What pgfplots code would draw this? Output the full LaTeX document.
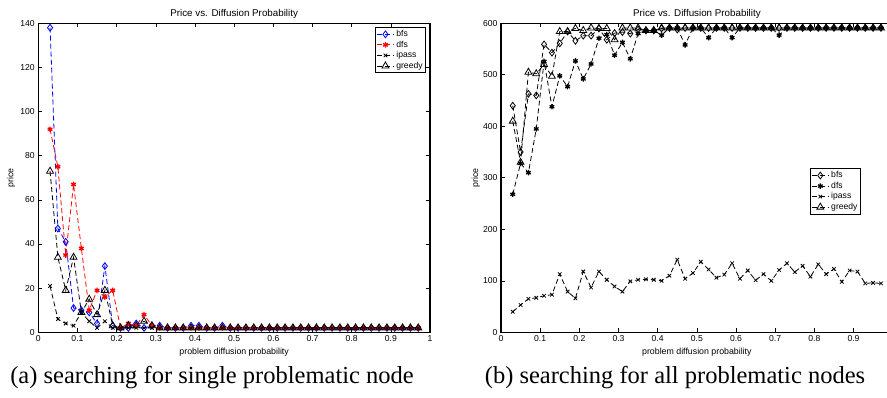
\documentclass[border=0pt]{standalone}
\usepackage{fontspec}
\setmainfont{Liberation Serif}
\newfontfamily\arial{Liberation Sans}
\usepackage{pgfplots}
\usepackage{pgfplotstable}
\pgfplotsset{compat=1.18}

\pgfplotstableread{
x bfs dfs ipass greedy
0.03 138 92 21 73
0.05 47 75 6 34
0.07 41 35 4 19
0.09 11 67 3 34
0.11 10 38 9 9
0.13 9 10 5 15
0.15 4 19 2 8
0.17 30 16 5 19
0.19 3 19 2 3
0.21 2 2 2 2
0.23 2 4 2 3
0.25 4 3 2 3
0.27 2 8 2 5
0.29 3 3 2 3
0.31 3 2 2 2
0.33 2 2 2 2
0.35 2 2 2 2
0.37 2 2 2 2
0.39 3 2 2 2
0.41 3 2 2 2
0.43 2 2 2 2
0.45 2 2 2 2
0.47 3 2 2 2
0.49 2 2 2 2
0.51 2 2 2 2
0.53 2 2 2 2
0.55 2 2 2 2
0.57 2 2 2 2
0.59 2 2 2 2
0.61 2 2 2 2
0.63 2 2 2 2
0.65 2 2 2 2
0.67 2 2 2 2
0.69 2 2 2 2
0.71 2 2 2 2
0.73 2 2 2 2
0.75 2 2 2 2
0.77 2 2 2 2
0.79 2 2 2 2
0.81 2 2 2 2
0.83 2 2 2 2
0.85 2 2 2 2
0.87 2 2 2 2
0.89 2 2 2 2
0.91 2 2 2 2
0.93 2 2 2 2
0.95 2 2 2 2
0.97 2 2 2 2
}\single

\pgfplotstableread{
x bfs dfs ipass greedy
0.03 440 268 40 410
0.05 350 328 53 330
0.07 463 310 65 505
0.09 460 395 67 502
0.11 559 526 71 520
0.13 543 438 73 497
0.15 561 498 113 584
0.17 584 477 79 584
0.19 566 527 66 590
0.21 576 492 118 586
0.23 576 521 87 591
0.25 590 571 118 590
0.27 568 578 102 590
0.29 581 538 89 568
0.31 583 563 79 591
0.33 580 531 99 591
0.35 588 580 102 591
0.37 586 586 103 586
0.39 586 586 102 586
0.41 590 577 100 591
0.43 591 591 110 591
0.45 588 591 141 591
0.47 591 558 104 591
0.49 591 591 115 591
0.51 591 591 137 591
0.53 591 572 122 591
0.55 591 591 106 591
0.57 591 591 112 591
0.59 591 572 134 591
0.61 591 591 104 591
0.63 591 591 120 591
0.65 591 591 101 591
0.67 591 591 113 591
0.69 591 591 100 591
0.71 591 577 121 591
0.73 591 591 134 591
0.75 591 591 117 591
0.77 591 591 129 591
0.79 591 591 108 591
0.81 591 591 132 591
0.83 591 591 113 591
0.85 591 591 123 591
0.87 591 591 98 591
0.89 591 591 120 591
0.91 591 591 118 591
0.93 591 591 95 591
0.95 591 591 96 591
0.97 591 591 95 591
}\allnodes

\pgfplotsset{
  mlab/.style={
    scale only axis, width=391.7pt, height=309pt,
    xmin=0, xmax=1,
    tick align=inside, major tick length=4pt,
    axis line style={line width=1.1pt},
    every tick/.style={black, line width=0.6pt},
    tick label style={font=\arial\fontsize{8.6}{10}\selectfont},
    /pgf/number format/assume math mode=true,
    label style={font=\arial\fontsize{8.8}{10}\selectfont},
    every axis title shift=0pt,
    title style={font=\arial\fontsize{9.8}{11}\selectfont, at={(axis description cs:0.5,1.03)}, anchor=center},
    xlabel style={at={(axis description cs:0.5,-0.064)}, anchor=center},
    legend style={font=\arial\fontsize{8.6}{9.8}\selectfont, draw=black, line width=0.9pt, inner sep=1pt, row sep=-1.2pt, legend cell align=left},
    legend image code/.code={\draw[mark repeat=2,mark phase=2,#1] plot coordinates {(0pt,0pt) (8.5pt,0pt) (17pt,0pt)};},
    every axis plot/.append style={line width=0.8pt, dash pattern=on 5pt off 3pt},
    title={Price vs. Diffusion Probability},
    xlabel={problem diffusion probability},
    ylabel={price},
  },
  mbfs/.style={mark=diamond, mark size=3.4pt, mark options={solid, fill=white}},
  mdfs/.style={mark=asterisk, mark size=2.7pt, mark options={solid, line width=1.3pt}},
  mipass/.style={mark=x, mark size=2.5pt, mark options={solid}},
  mgreedy/.style={mark=triangle, mark size=4pt, mark options={solid}},
}

\begin{document}
\begin{tikzpicture}[x=1pt,y=1pt]
\useasboundingbox (0,0) rectangle (887,397);

\begin{axis}[mlab, at={(38.3pt,64.7pt)}, anchor=south west,
  xtick={0,0.1,0.2,0.3,0.4,0.5,0.6,0.7,0.8,0.9,1},
  ymin=0, ymax=140, ytick={0,20,40,60,80,100,120,140},
  ylabel style={at={(axis description cs:-0.0697,0.5)}, anchor=center},
  legend style={at={(0.99,0.988)}, anchor=north east}]
\addplot[blue, mbfs] table[x=x, y=bfs] {\single};
\addplot[red, mdfs] table[x=x, y=dfs] {\single};
\addplot[black, mipass] table[x=x, y=ipass] {\single};
\addplot[black, mgreedy] table[x=x, y=greedy] {\single};
\legend{bfs, dfs, ipass, greedy}
\end{axis}

\begin{axis}[mlab, at={(501pt,64.7pt)}, anchor=south west,
  xtick={0,0.1,0.2,0.3,0.4,0.5,0.6,0.7,0.8,0.9},
  ymin=0, ymax=600, ytick={0,100,200,300,400,500,600},
  ylabel style={at={(axis description cs:-0.064,0.5)}, anchor=center},
  legend style={at={(0.919,0.531)}, anchor=north east}]
\addplot[black, mbfs] table[x=x, y=bfs] {\allnodes};
\addplot[black, mdfs] table[x=x, y=dfs] {\allnodes};
\addplot[black, mipass] table[x=x, y=ipass] {\allnodes};
\addplot[black, mgreedy] table[x=x, y=greedy] {\allnodes};
\legend{bfs, dfs, ipass, greedy}
\end{axis}

\node[anchor=base, font=\fontsize{24.5}{28}\selectfont, inner sep=0pt] at (212,14) {(a) searching for single problematic node};
\node[anchor=base, font=\fontsize{24.5}{28}\selectfont, inner sep=0pt] at (675,14) {(b) searching for all problematic nodes};
\end{tikzpicture}
\end{document}
